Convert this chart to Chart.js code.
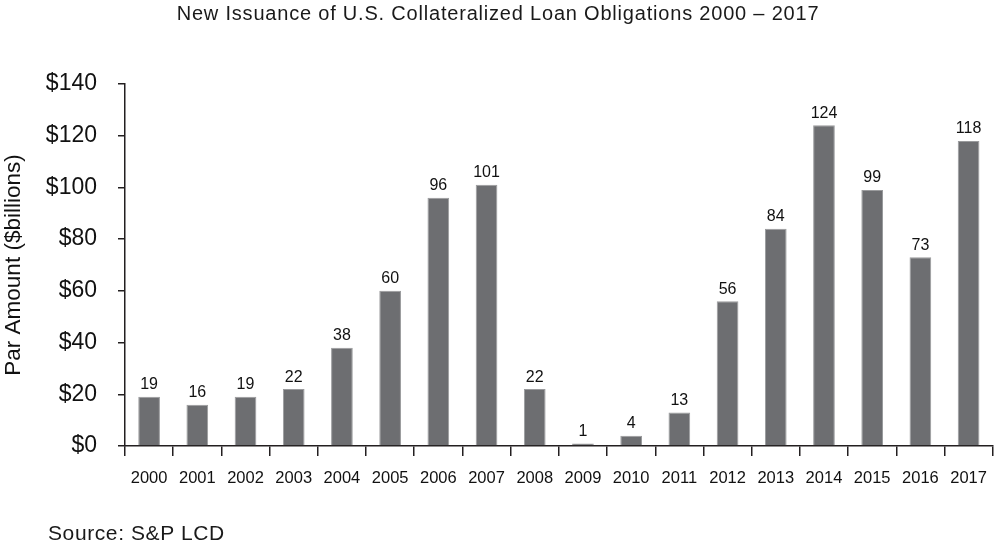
<!DOCTYPE html>
<html>
<head>
<meta charset="utf-8">
<script src="https://cdn.jsdelivr.net/npm/chart.js@4"></script>
<style>
  body { margin: 0; background: #fff; }
  #wrap { position: relative; width: 1000px; height: 549px; font-family: "Liberation Sans", Arial, sans-serif; color: #1a1a1a; }
  #title { position: absolute; top: 2px; left: 0; width: 996px; text-align: center; font-size: 20px; letter-spacing: 0.8px; }
  #source { position: absolute; left: 48px; top: 521px; font-size: 21px; letter-spacing: 0.6px; }
</style>
</head>
<body>
<div id="wrap">
  <canvas id="cloChart" width="1000" height="549"></canvas>
  <div id="title">New Issuance of U.S. Collateralized Loan Obligations 2000 – 2017</div>
  <div id="source">Source: S&amp;P LCD</div>
</div>
<script>
let years = ["2000", "2001", "2002", "2003", "2004", "2005", "2006", "2007", "2008",
  "2009", "2010", "2011", "2012", "2013", "2014", "2015", "2016", "2017"];
let issuance = [19, 16, 19, 22, 38, 60, 96, 101, 22, 1, 4, 13, 56, 84, 124, 99, 73, 118];
let yTicks = [0, 20, 40, 60, 80, 100, 120, 140];

let axisColor = "#231f20";
let fontFamily = "'Liberation Sans', Arial, sans-serif";

// numbers above each bar
let barLabels = {
  id: "barLabels",
  afterDatasetsDraw(chart) {
    let ctx = chart.ctx;
    let meta = chart.getDatasetMeta(0);
    ctx.save();
    ctx.font = "16px " + fontFamily;
    ctx.fillStyle = "#111";
    ctx.textAlign = "center";
    ctx.textBaseline = "bottom";
    meta.data.forEach((bar, i) => {
      ctx.fillText(issuance[i], bar.x, bar.y - 4);
    });
    ctx.restore();
  },
};

Chart.defaults.font.family = fontFamily;
Chart.defaults.color = "#111";

var cloChart = new Chart(document.getElementById("cloChart"), {
  type: "bar",
  data: {
    labels: years,
    datasets: [
      {
        label: "New issuance",
        backgroundColor: "#6d6e71",
        borderColor: "#9a9b9d",
        borderWidth: 1,
        data: issuance,
        barPercentage: 0.9,
        categoryPercentage: 0.5,
      },
    ],
  },
  options: {
    responsive: false,
    animation: false,
    layout: { padding: { top: 84, right: 2, left: 0, bottom: 0 } },
    plugins: {
      legend: { display: false },
      tooltip: { enabled: false },
    },
    scales: {
      x: {
        grid: {
          offset: true,
          drawOnChartArea: false,
          drawTicks: true,
          tickLength: 10,
          color: axisColor,
          lineWidth: 1.5,
        },
        border: { color: axisColor, width: 1.5 },
        ticks: { font: { size: 16.5 }, padding: 13, maxRotation: 0, autoSkip: false },
        afterFit: (scale) => { scale.height = 103; },
      },
      y: {
        min: 0,
        max: 140,
        afterBuildTicks: (scale) => { scale.ticks = yTicks.map((v) => ({ value: v })); },
        grid: {
          drawOnChartArea: false,
          drawTicks: true,
          tickLength: 7,
          color: axisColor,
          lineWidth: 1.5,
        },
        border: { color: axisColor, width: 1.5 },
        ticks: {
          font: { size: 23 },
          padding: 21,
          callback: (value) => "$" + value,
        },
        title: {
          display: true,
          text: "Par Amount ($billions)",
          font: { size: 22.5 },
          padding: { top: 0, bottom: 0 },
        },
        afterFit: (scale) => { scale.width = 125; },
      },
    },
  },
  plugins: [barLabels],
});
</script>
</body>
</html>
